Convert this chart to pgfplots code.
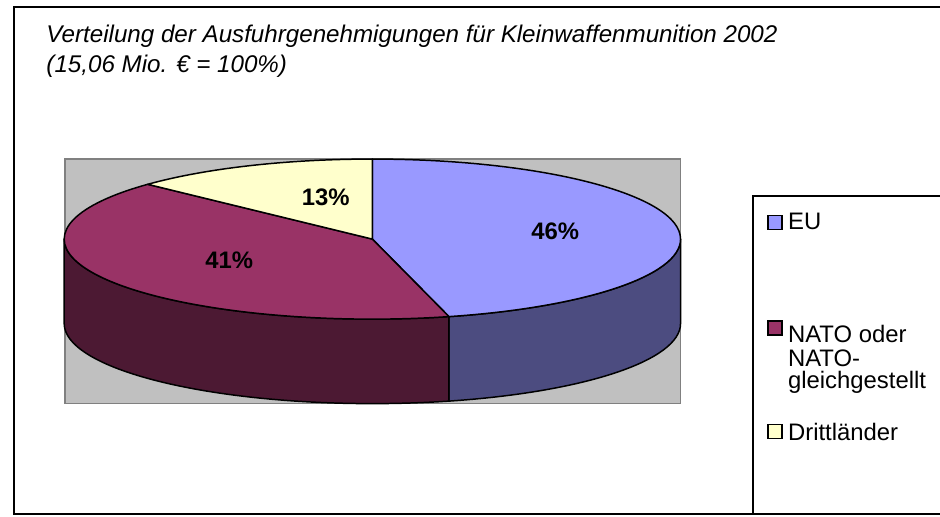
\documentclass[border=0pt]{standalone}
\usepackage{fontspec}
\setmainfont{Liberation Sans}
\usepackage{pgfplots}
\usepackage{pgfplotstable}
\pgfplotsset{compat=1.18}
\definecolor{eutop}{HTML}{9999FF}
\definecolor{euside}{HTML}{4C4C80}
\definecolor{natotop}{HTML}{993366}
\definecolor{natoside}{HTML}{4C1933}
\definecolor{dritt}{HTML}{FFFFCC}
\definecolor{bg}{HTML}{C0C0C0}
\definecolor{bgedge}{HTML}{808080}

\pgfplotstableread{
label value
EU 46
NATO 41
Drittlaender 13
}\piedata

\begin{document}
\pgfplotstablegetelem{0}{value}\of\piedata \let\vA\pgfplotsretval
\pgfplotstablegetelem{1}{value}\of\piedata \let\vB\pgfplotsretval
\pgfplotstablegetelem{2}{value}\of\piedata \let\vC\pgfplotsretval
\pgfmathsetmacro{\tA}{90-3.6*\vA}
\pgfmathsetmacro{\tB}{90-3.6*(\vA+\vB)}
\begin{tikzpicture}
\begin{axis}[width=940pt,height=520pt,scale only axis,
  xmin=0,xmax=940,ymin=0,ymax=520,y dir=reverse,hide axis,clip=false,
  enlargelimits=false,xtick=\empty,ytick=\empty]
\coordinate (TL) at (axis cs:0,0);
\coordinate (BR) at (axis cs:940,520);
% frame
\draw[line width=2pt] (axis cs:940,7) -- (axis cs:9,7) -- (axis cs:9,517) -- (axis cs:940,517);
% background
\filldraw[fill=bg,draw=bgedge,line width=1.5pt] (axis cs:60,160) rectangle (axis cs:679,406);
% sides
\filldraw[fill=euside,draw=black,line width=1.5pt,line join=round]
  (axis cs:369,240.5) ++(\tA:310pt and 80.5pt) arc[start angle=\tA,end angle=0,x radius=310pt,y radius=80.5pt]
  -- ++(0,-85pt) arc[start angle=0,end angle=\tA,x radius=310pt,y radius=80.5pt] -- cycle;
\filldraw[fill=natoside,draw=black,line width=1.5pt,line join=round]
  (axis cs:369,240.5) ++(-180:310pt and 80.5pt) arc[start angle=-180,end angle=\tA,x radius=310pt,y radius=80.5pt]
  -- ++(0,-85pt) arc[start angle=\tA,end angle=-180,x radius=310pt,y radius=80.5pt] -- cycle;
% tops
\filldraw[fill=eutop,draw=black,line width=1.5pt,line join=round]
  (axis cs:369,240.5) -- ++(90:310pt and 80.5pt) arc[start angle=90,end angle=\tA,x radius=310pt,y radius=80.5pt] -- cycle;
\filldraw[fill=natotop,draw=black,line width=1.5pt,line join=round]
  (axis cs:369,240.5) -- ++(\tA:310pt and 80.5pt) arc[start angle=\tA,end angle=\tB,x radius=310pt,y radius=80.5pt] -- cycle;
\filldraw[fill=dritt,draw=black,line width=1.5pt,line join=round]
  (axis cs:369,240.5) -- ++(\tB:310pt and 80.5pt) arc[start angle=\tB,end angle=-270,x radius=310pt,y radius=80.5pt] -- cycle;
% labels
\node[font={\fontsize{24}{28}\selectfont\bfseries}] at (axis cs:322,198) {13\%};
\node[font={\fontsize{24}{28}\selectfont\bfseries}] at (axis cs:553,233) {46\%};
\node[font={\fontsize{24}{28}\selectfont\bfseries}] at (axis cs:225,262) {41\%};
% title
\node[anchor=base west,inner sep=0,font={\fontsize{24.3}{28}\selectfont\itshape}] at (axis cs:41,43) {Verteilung der Ausfuhrgenehmigungen für Kleinwaffenmunition 2002};
\node[anchor=base west,inner sep=0,font={\fontsize{24.3}{28}\selectfont\itshape}] at (axis cs:41,73) {(15,06 Mio. € = 100\%)};
% legend
\draw[line width=2pt] (axis cs:752,517) -- (axis cs:752,197) -- (axis cs:940,197);
\filldraw[fill=eutop,draw=black,line width=1.5pt] (axis cs:767,217) rectangle (axis cs:781,231);
\filldraw[fill=natotop,draw=black,line width=1.5pt] (axis cs:767,323) rectangle (axis cs:781,337);
\filldraw[fill=dritt,draw=black,line width=1.5pt] (axis cs:767,427) rectangle (axis cs:781,441);
\node[anchor=base west,inner sep=0,font={\fontsize{24}{28}\selectfont}] at (axis cs:787,231) {EU};
\node[anchor=base west,inner sep=0,font={\fontsize{24}{28}\selectfont}] at (axis cs:787,345) {NATO oder};
\node[anchor=base west,inner sep=0,font={\fontsize{24}{28}\selectfont}] at (axis cs:787,369) {NATO-};
\node[anchor=base west,inner sep=0,font={\fontsize{24}{28}\selectfont}] at (axis cs:787,391) {gleichgestellt};
\node[anchor=base west,inner sep=0,font={\fontsize{24}{28}\selectfont}] at (axis cs:787,443) {Drittländer};
\end{axis}
\pgfresetboundingbox
\useasboundingbox (TL) rectangle (BR);
\end{tikzpicture}
\end{document}
